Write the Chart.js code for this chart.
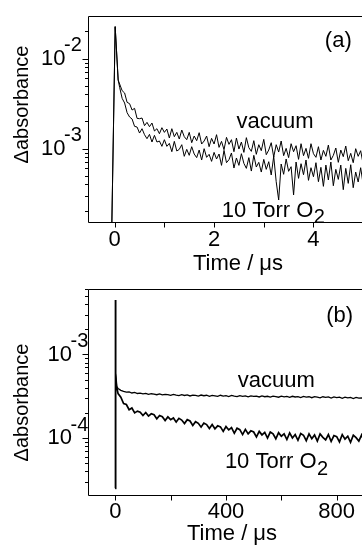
<!DOCTYPE html>
<html><head><meta charset="utf-8">
<script src="https://cdn.jsdelivr.net/npm/chart.js@4.4.1/dist/chart.umd.min.js"></script>
<style>
html,body{margin:0;padding:0;width:362px;height:547px;overflow:hidden;background:#fff;}
#ca{position:absolute;left:0;top:0;}
#cb{position:absolute;left:0;top:273px;}
</style></head><body>
<canvas id="ca" width="392" height="290"></canvas>
<canvas id="cb" width="392" height="280"></canvas>
<script>
// ---------- data (absorbance values in units of 1e-4) ----------
const UNIT = 1e-4;

// Panel (a): time in microseconds
const timeA = [-0.54,-0.06,0.01,0.07,
0.10,0.15,0.20,0.25,0.30,0.35,0.40,0.45,0.50,0.55,
0.60,0.65,0.70,0.75,0.80,0.85,0.90,0.95,1.00,1.05,
1.10,1.15,1.20,1.25,1.30,1.35,1.40,1.45,1.50,1.55,
1.60,1.65,1.70,1.75,1.80,1.85,1.90,1.95,2.00,2.05,
2.10,2.15,2.20,2.25,2.30,2.35,2.40,2.45,2.50,2.55,
2.60,2.65,2.70,2.75,2.80,2.85,2.90,2.95,3.00,3.05,
3.10,3.15,3.20,3.25,3.30,3.35,3.40,3.45,3.50,3.55,
3.60,3.65,3.70,3.75,3.80,3.85,3.90,3.95,4.00,4.05,
4.10,4.15,4.20,4.25,4.30,4.35,4.40,4.45,4.50,4.55,
4.60,4.65,4.70,4.75,4.80,4.85,4.90,4.95,5.00];

const vacuumA = [1.2,1.2,226,57.7,
52.10,43.94,41.39,32.59,31.50,26.78,27.95,21.64,21.45,21.82,
17.94,19.53,17.48,19.20,15.65,16.61,14.61,17.04,15.12,16.47,
13.09,16.61,13.54,15.12,12.75,16.05,13.54,12.54,15.12,11.61,
13.77,12.22,14.99,11.22,12.12,13.77,10.48,12.97,11.22,14.25,
10.30,12.01,9.71,13.31,11.12,12.54,9.22,13.09,9.87,11.81,
9.06,13.20,10.22,9.30,12.22,8.62,11.03,9.46,12.64,8.54,
9.62,11.61,8.05,11.03,9.14,12.12,8.33,10.04,7.92,11.31,
9.22,10.75,7.58,11.31,8.33,10.04,7.78,11.31,8.76,7.98,
10.48,7.45,9.54,8.19,10.93,7.45,8.40,10.13,7.02,9.62,
8.12,10.66,7.32,8.84,6.96,9.96,8.19,9.46,6.72];

const o2A = [1.2,1.2,226,57.7,
47.86,36.11,32.04,25.01,22.39,21.27,17.63,17.33,14.86,16.61,
14.25,12.86,14.37,11.81,14.00,11.81,12.12,10.57,12.54,10.57,
11.41,9.22,12.01,9.38,9.79,11.03,8.19,9.79,8.40,10.48,
8.69,7.92,9.62,7.45,9.96,7.98,8.62,7.20,9.06,7.65,
8.69,6.50,9.54,6.96,7.52,8.92,6.07,7.85,6.50,8.76,
6.84,6.02,7.92,5.62,8.40,6.23,7.02,5.48,7.58,5.87,
7.14,5.08,8.19,4.28,2.68,6.73,5.17,7.65,5.58,6.28,
3.05,7.08,4.66,6.78,5.12,7.45,4.43,6.12,4.86,6.96,
4.28,6.18,3.80,6.55,4.47,7.08,3.86,5.87,4.54,6.55,
3.49,6.02,4.10,6.61,3.67,5.48,4.25,6.12,4.00];

// Panel (b): time in microseconds
const timeB = [0,0.5,1.4,5,
10,20,30,40,50,60,70,80,90,100,
110,120,130,140,150,160,170,180,190,200,
210,220,230,240,250,260,270,280,290,300,
310,320,330,340,350,360,370,380,390,400,
410,420,430,440,450,460,470,480,490,500,
510,520,530,540,550,560,570,580,590,600,
610,620,630,640,650,660,670,680,690,700,
710,720,730,740,750,760,770,780,790,800,
810,820,830,840,850,860,870,880,890,900,
910,920,930,940];

const vacuumB = [0.25,45,5.96,4.11,
3.92,3.72,3.62,3.55,3.56,3.46,3.51,3.41,3.44,3.38,
3.43,3.33,3.39,3.35,3.30,3.37,3.28,3.33,3.31,3.24,
3.33,3.26,3.22,3.30,3.23,3.28,3.19,3.27,3.24,3.18,
3.27,3.21,3.25,3.16,3.24,3.20,3.15,3.25,3.18,3.21,
3.14,3.23,3.17,3.13,3.22,3.16,3.20,3.11,3.19,3.15,
3.18,3.10,3.19,3.12,3.16,3.09,3.18,3.13,3.08,3.17,
3.11,3.15,3.07,3.16,3.10,3.13,3.05,3.15,3.09,3.12,
3.04,3.13,3.08,3.03,3.12,3.06,3.10,3.01,3.10,3.05,
3.08,2.99,3.08,3.02,3.06,2.97,3.06,3.00,3.03,2.96,
3.04,2.98,3.01,2.95];

const o2B = [0.25,45,5.96,4.11,
3.40,3.08,2.58,2.52,2.18,2.29,2.00,2.10,2.04,1.86,
2.02,1.83,1.95,1.90,1.70,1.86,1.80,1.62,1.79,1.66,
1.74,1.55,1.72,1.64,1.49,1.66,1.60,1.41,1.57,1.50,
1.35,1.51,1.45,1.30,1.45,1.29,1.40,1.36,1.20,1.37,
1.25,1.33,1.14,1.31,1.26,1.10,1.27,1.12,1.22,1.18,
1.03,1.20,1.09,1.17,1.00,1.18,1.12,0.98,1.16,1.05,
1.12,0.96,1.15,1.00,1.10,0.94,1.13,1.08,0.93,1.12,
0.98,1.09,0.92,1.12,1.02,0.95,1.10,0.91,1.07,1.04,
0.90,1.10,0.97,1.05,0.89,1.08,1.01,0.92,1.09,0.90,
1.04,0.97,0.88,1.06];

// ticks and labels
const xTicksA = [0,1,2,3,4,5];
const xLabelsA = ['0','','2','','4',''];
const yMajorA = [1e-3, 1e-2];
const xTicksB = [0,200,400,600,800];
const xLabelsB = ['0','','400','','800'];
const yMajorB = [1e-4, 1e-3];

// ---------- drawing ----------
const FONT = "'Liberation Sans', Arial, Helvetica, sans-serif";

function logTicks(min, max) {
  const out = [];
  for (let e = Math.floor(Math.log10(min)); e <= Math.ceil(Math.log10(max)); e++) {
    for (let m = 1; m <= 9; m++) {
      const v = m * Math.pow(10, e);
      if (v >= min && v <= max) out.push({value: v, major: m === 1});
    }
  }
  return out;
}

function decor(p) {
  return {
    id: 'decor' + p.id,
    afterDatasetsDraw(chart) {
      const {ctx, chartArea: a, scales: {x, y}} = chart;
      ctx.save();
      ctx.strokeStyle = '#000'; ctx.fillStyle = '#000'; ctx.lineWidth = 1;
      const L = Math.round(a.left) + 0.5, T = Math.round(a.top) + 0.5;
      const B = Math.round(a.bottom) - 0.5, R = Math.round(a.right) - 0.5;
      ctx.beginPath();
      ctx.moveTo(L, B); ctx.lineTo(L, T); ctx.lineTo(R, T); ctx.lineTo(R, B); ctx.closePath();
      p.xTicks.forEach(v => {
        const px = Math.round(x.getPixelForValue(v)) + 0.5;
        ctx.moveTo(px, B); ctx.lineTo(px, B + 5);
      });
      y.ticks.forEach(t => {
        const py = Math.round(y.getPixelForValue(t.value)) + 0.5;
        const len = t.major ? 6 : 3.5;
        ctx.moveTo(L, py); ctx.lineTo(L - len, py);
      });
      ctx.stroke();
      // y tick labels 10^n
      p.yMajor.forEach(v => {
        const py = y.getPixelForValue(v);
        ctx.font = '22px ' + FONT; ctx.textAlign = 'right'; ctx.textBaseline = 'middle';
        ctx.fillText('10', p.labelRight, py);
        ctx.font = '20px ' + FONT; ctx.textAlign = 'left'; ctx.textBaseline = 'alphabetic';
        ctx.fillText('-' + Math.abs(Math.round(Math.log10(v))), p.labelRight - 1.5, py - 7.5);
      });
      // y title
      ctx.save();
      ctx.translate(p.yTitle.x, p.yTitle.y); ctx.rotate(-Math.PI / 2);
      ctx.font = p.yTitle.size + 'px ' + FONT; ctx.textAlign = 'center'; ctx.textBaseline = 'middle';
      ctx.fillText('\u0394absorbance', 0, 0);
      ctx.restore();
      // annotations
      p.notes.forEach(n => {
        const px = x.getPixelForValue(n.x), py = y.getPixelForValue(n.y);
        ctx.font = '22px ' + FONT; ctx.textAlign = n.align; ctx.textBaseline = n.baseline || 'alphabetic';
        ctx.fillText(n.text, px, py);
        if (n.sub) {
          const w = ctx.measureText(n.text).width;
          ctx.font = '20px ' + FONT; ctx.textAlign = 'left';
          ctx.fillText(n.sub, px + w + 0.5, py + 6.5);
        }
      });
      ctx.restore();
    }
  };
}

function buildPanel(p) {
  const datasets = p.series.map((s, k) => ({
    data: p.times.map((t, i) => ({x: t, y: s[i] * UNIT})),
    borderColor: '#000', borderWidth: p.widths[k], pointRadius: 0, tension: 0, fill: false
  }));
  return new Chart(document.getElementById(p.canvas), {
    type: 'line',
    data: {datasets},
    options: {
      responsive: false, animation: false,
      layout: {padding: {left: 0, top: p.top, right: p.padRight, bottom: 0}},
      plugins: {legend: {display: false}, tooltip: {enabled: false}},
      scales: {
        x: {
          type: 'linear', min: p.xMin, max: p.xMax,
          afterBuildTicks: s => { s.ticks = p.xTicks.map(v => ({value: v})); },
          afterFit: s => { s.height = p.xAxisH; },
          grid: {display: false, drawTicks: false},
          border: {display: false},
          ticks: {
            autoSkip: false, maxRotation: 0, minRotation: 0, padding: p.tickPad, color: '#000',
            font: {family: FONT, size: 22, lineHeight: 1.2},
            callback: (v, i) => p.xLabels[i]
          },
          title: {display: true, text: 'Time / \u03bcs', color: '#000',
            font: {family: FONT, size: 22, lineHeight: 1.2},
            padding: {top: 0, bottom: p.titlePad}}
        },
        y: {
          type: 'logarithmic', min: p.yMin, max: p.yMax,
          afterBuildTicks: s => { s.ticks = logTicks(p.yMin, p.yMax); },
          afterFit: s => { s.width = 88; },
          grid: {display: false, drawTicks: false},
          border: {display: false},
          ticks: {display: false}
        }
      }
    },
    plugins: [decor(p)]
  });
}

buildPanel({
  id: 'A', canvas: 'ca', times: timeA, series: [vacuumA, o2A], widths: [1, 1],
  xMin: -0.537, xMax: 5.5, yMin: 1.507e-4, yMax: 2.99e-2,
  xTicks: xTicksA, xLabels: xLabelsA, yMajor: yMajorA,
  top: 15.7, padRight: 4, xAxisH: 67.5, tickPad: 4.3, titlePad: 12.4,
  labelRight: 65.5, yTitle: {x: 22.5, y: 104.5, size: 20},
  notes: [
    {text: 'vacuum', x: 3.225, y: 1.68e-3, align: 'center'},
    {text: '10 Torr O', sub: '2', x: 2.153, y: 1.75e-4, align: 'left'},
    {text: '(a)', x: 4.77, y: 1.56e-2, align: 'right', baseline: 'middle'}
  ]
});

buildPanel({
  id: 'B', canvas: 'cb', times: timeB, series: [vacuumB, o2B], widths: [1.3, 1.7],
  xMin: -98.6, xMax: 942, yMin: 2.04e-5, yMax: 6.08e-3,
  xTicks: xTicksB, xLabels: xLabelsB, yMajor: yMajorB,
  top: 16, padRight: 16, xAxisH: 57.3, tickPad: 2.6, titlePad: 5.4,
  labelRight: 72, yTitle: {x: 22.5, y: 129.5, size: 20},
  notes: [
    {text: 'vacuum', x: 582, y: 4.11e-4, align: 'center'},
    {text: '10 Torr O', sub: '2', x: 396, y: 4.33e-5, align: 'left'},
    {text: '(b)', x: 859, y: 2.89e-3, align: 'right', baseline: 'middle'}
  ]
});
</script>
</body></html>
